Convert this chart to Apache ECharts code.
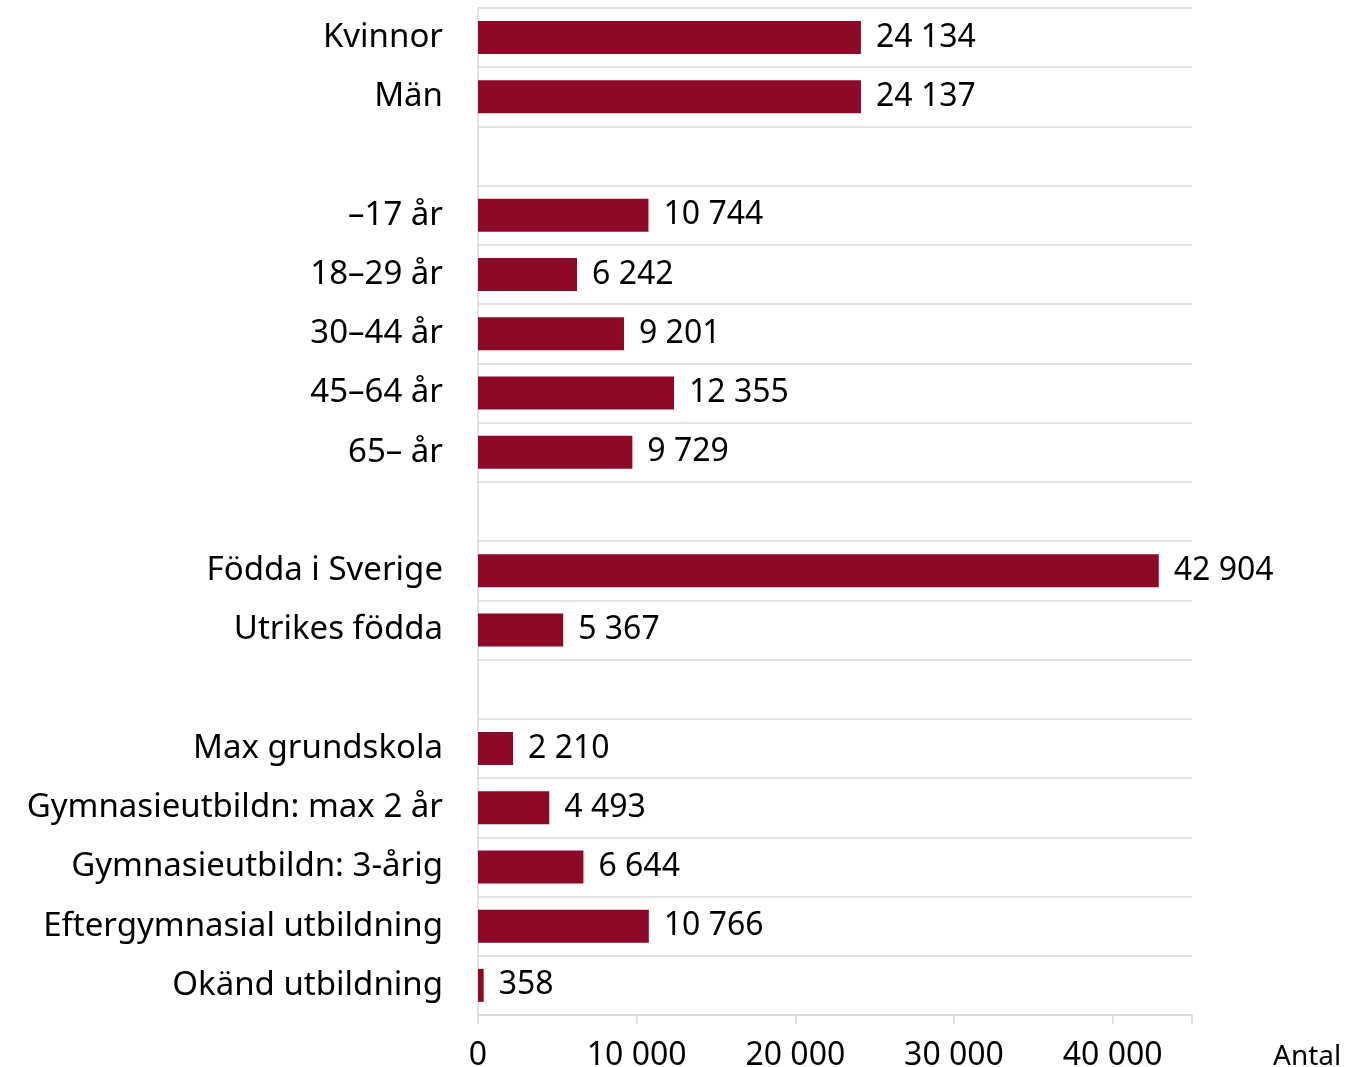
<!DOCTYPE html>
<html>
<head>
<meta charset="utf-8">
<script src="https://cdn.jsdelivr.net/npm/echarts@6/dist/echarts.min.js"></script>
<style>
html,body{margin:0;padding:0;background:#fff;}
#chart{width:1364px;height:1067px;}
</style>
</head>
<body>
<div id="chart"></div>
<script>
const categories = [
  'Kvinnor', 'Män', ' ',
  '\u201317 år', '18\u201329 år', '30\u201344 år', '45\u201364 år', '65\u2013 år', '  ',
  'Födda i Sverige', 'Utrikes födda', '   ',
  'Max grundskola', 'Gymnasieutbildn: max 2 år', 'Gymnasieutbildn: 3-årig',
  'Eftergymnasial utbildning', 'Okänd utbildning'
];
const values = [
  24134, 24137, null,
  10744, 6242, 9201, 12355, 9729, null,
  42904, 5367, null,
  2210, 4493, 6644, 10766, 358
];
const xTicks = [0, 10000, 20000, 30000, 40000];
const axisName = 'Antal';

function fmt(v) {
  return String(v).replace(/\B(?=(\d{3})+(?!\d))/g, ' ');
}

const chart = echarts.init(document.getElementById('chart'));
chart.setOption({
  animation: false,
  grid: { left: 478, right: 172, top: 8, bottom: 52, containLabel: false, outerBoundsMode: 'none' },
  xAxis: {
    type: 'value',
    min: 0,
    max: 45000,
    interval: 10000,
    name: axisName,
    nameLocation: 'end',
    nameGap: 81,
    nameTextStyle: { fontFamily: 'Noto Sans', fontSize: 28, color: '#000', verticalAlign: 'top', padding: [28, 0, 0, 0] },
    axisLine: { show: true, lineStyle: { color: '#d9d9d9', width: 1.5 } },
    axisTick: { show: true, length: 9, lineStyle: { color: '#d9d9d9', width: 1.5 } },
    splitLine: { show: false },
    axisLabel: {
      margin: 25,
      fontFamily: 'Noto Sans', fontSize: 32, color: '#000',
      formatter: function (v) { return xTicks.indexOf(v) >= 0 ? fmt(v) : ''; }
    }
  },
  yAxis: {
    type: 'category',
    data: categories,
    inverse: true,
    axisLine: { show: true, lineStyle: { color: '#d9d9d9', width: 1.5 } },
    axisTick: { show: false, interval: 0 },
    splitLine: { show: true, interval: 0, lineStyle: { color: '#d9d9d9', width: 1.5 } },
    axisLabel: { interval: 0, margin: 35, fontFamily: 'Noto Sans', fontSize: 33, color: '#000', padding: [8, 0, 0, 0] }
  },
  series: [{
    type: 'bar',
    data: values,
    barWidth: 33,
    itemStyle: { color: '#8c0a27' },
    label: {
      show: true,
      position: 'right',
      distance: 15,
      fontFamily: 'Noto Sans', fontSize: 32, color: '#000',
      padding: [8, 0, 0, 0],
      formatter: function (p) { return p.value == null ? '' : fmt(p.value); }
    }
  }]
});
</script>
</body>
</html>
